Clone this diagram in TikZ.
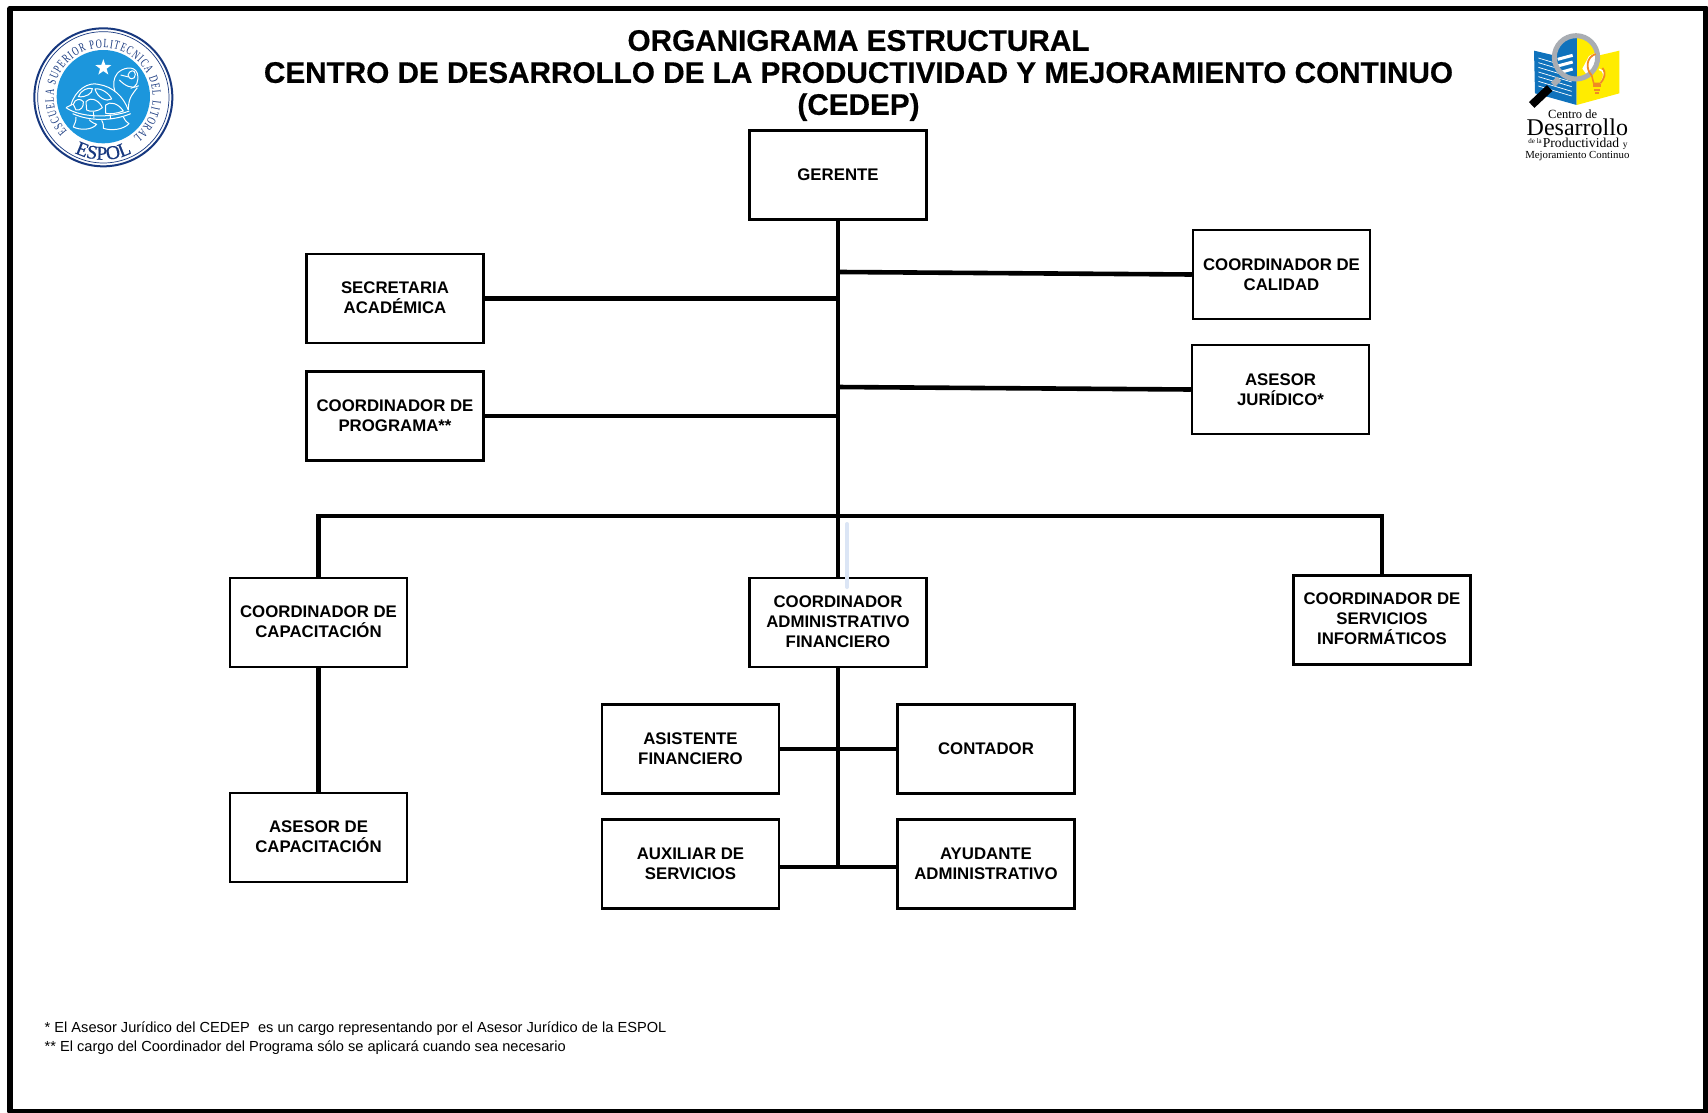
\documentclass[tikz,border=0pt]{standalone}
\usepackage{fontspec}
\setmainfont{Liberation Sans}
\newfontfamily\titlefont[FakeBold=0.5]{Liberation Sans Bold}
\newfontfamily\serifmark{Liberation Serif}
\newfontfamily\sealring[FakeStretch=0.68]{Liberation Serif}
\newfontfamily\sealname[FakeBold=0.6]{Liberation Serif}
\usetikzlibrary{shapes.geometric,decorations.text,calc}
\definecolor{sealblue}{HTML}{1C96DC}
\definecolor{sealnavy}{HTML}{17387F}
\definecolor{bookblue}{HTML}{0F72BC}
\definecolor{bookyellow}{HTML}{FFEC00}
\definecolor{lensgray}{HTML}{A9ADB3}
\definecolor{bulborange}{HTML}{F08A24}
\definecolor{stripeblue}{HTML}{DBE5F5}
\newcommand{\lifttext}{\rule[-2pt]{0pt}{0pt}}
\tikzset{
  orgbox/.style={draw=black,fill=white,line width=2.5pt,minimum width=177pt,minimum height=89pt,inner sep=0pt,align=center,
    font=\fontsize{16.8}{20}\selectfont\bfseries},
  link/.style={draw=black,line width=4.6pt},
  turtleline/.style={draw=white,line width=1pt,line join=round},
}
\begin{document}
\begin{tikzpicture}[x=1pt,y=-1pt]
\useasboundingbox (0,0) rectangle (1708,1113);
\fill[white] (0,0) rectangle (1708,1113);
\draw[line width=5.5pt,line join=round] (10,8.5) rectangle (1706,1111.5);

% Title and notes
\node[align=center,font=\fontsize{29.7}{32}\selectfont\titlefont] (title) at (858.5,75.5)
  {ORGANIGRAMA ESTRUCTURAL\\CENTRO DE DESARROLLO DE LA PRODUCTIVIDAD Y MEJORAMIENTO CONTINUO\\(CEDEP)};
\node[anchor=west,align=left,inner sep=0pt,font=\fontsize{14.6}{18.5}\selectfont] (notes) at (44.5,1038)
  {* El Asesor Jurídico del CEDEP\ \ es un cargo representando por el Asesor Jurídico de la ESPOL\\** El cargo del Coordinador del Programa sólo se aplicará cuando sea necesario};

% Free junctions
\coordinate (jCal) at (840,272);
\coordinate (jJur) at (836.5,387);
\coordinate (jBus) at (838,516);
\coordinate (jAux) at (838,867);

% Boxes
\node[orgbox] (ger) at (838,175) {GERENTE};
\node[orgbox] (sec) at (395,298.5) {SECRETARIA\\ACADÉMICA\lifttext};
\node[orgbox] (prog) at (395,416) {COORDINADOR DE\\PROGRAMA**};
\node[orgbox] (cal) at (1281.5,274.5) {COORDINADOR DE\\CALIDAD};
\node[orgbox] (jur) at (1280.5,389.5) {ASESOR\\JURÍDICO*};
\node[orgbox] (cap) at (318.5,622.5) {COORDINADOR DE\\CAPACITACIÓN\lifttext};
\node[orgbox] (caf) at (838,622.5) {COORDINADOR\\ADMINISTRATIVO\\FINANCIERO\lifttext};
\node[orgbox] (serv) at (1382,620) {COORDINADOR DE\\SERVICIOS\\INFORMÁTICOS\lifttext};
\node[orgbox] (acap) at (318.5,837.5) {ASESOR DE\\CAPACITACIÓN\lifttext};
\node[orgbox] (asis) at (690.5,749) {ASISTENTE\\FINANCIERO};
\node[orgbox] (cont) at (986,749) {CONTADOR};
\node[orgbox] (aux) at (690.5,864) {AUXILIAR DE\\SERVICIOS};
\node[orgbox] (ayu) at (986,864) {AYUDANTE\\ADMINISTRATIVO};

% Connectors
\draw[link] (ger.south) -- (caf.north);
\draw[link] (caf.south) -- (jAux);
\draw[link] (sec.east) -- (sec.east -| ger.south);
\draw[link] (prog.east) -- (prog.east -| ger.south);
\draw[link] (jCal) -- (cal.west);
\draw[link] (jJur) -- (jur.west);
\draw[link] (cap.north) |- (jBus) -| (serv.north);
\draw[link] (cap.south) -- (acap.north);
\draw[link] (asis.east) -- (cont.west);
\draw[link] (aux.east |- jAux) -- (ayu.west |- jAux);
\draw[stripeblue,line width=4pt,line cap=round] (847,524) -- (847,587);

% ESPOL seal
\begin{scope}[x=0.33333pt,y=-0.33333pt]
  \draw[sealnavy,line width=2pt] (310,292) circle[radius=207];
  \draw[sealnavy,line width=0.7pt] (310,292) circle[radius=197];
  \fill[sealblue] (310,290) circle[radius=140];
\end{scope}
\begin{scope}[shift={(60,55)},x=0.33333pt,y=-0.33333pt]
  \node[star,star points=5,star point ratio=2.5,fill=white,inner sep=0pt,minimum size=17pt] (sealstar) at (130,38) {};
  % shell
  \draw[turtleline] (33,150) .. controls (45,105) and (85,80) .. (115,88) .. controls (160,95) and (190,125) .. (205,165);
  \draw[turtleline] (18,158) .. controls (60,188) and (150,190) .. (208,168);
  \draw[turtleline] (18,158) -- (38,148);
  \draw[turtleline] (38,176) .. controls (90,200) and (160,198) .. (212,176);
  \draw[turtleline] (55,125) .. controls (62,105) and (85,96) .. (97,101) .. controls (98,115) and (78,128) .. cycle;
  \draw[turtleline] (105,102) .. controls (125,98) and (150,118) .. (155,132) .. controls (140,142) and (112,128) .. cycle;
  \draw[turtleline] (40,148) .. controls (45,130) and (62,130) .. (70,140) .. controls (72,155) and (62,168) .. (48,165) -- cycle;
  \draw[turtleline] (78,140) .. controls (95,122) and (120,140) .. (127,158) .. controls (115,170) and (90,172) .. (80,165) -- cycle;
  \draw[turtleline] (137,150) .. controls (150,138) and (175,145) .. (190,168) .. controls (170,176) and (148,178) .. (137,175) -- cycle;
  \draw[turtleline] (100,170) -- (102,190) (150,178) -- (152,192);
  % neck and head
  \draw[turtleline] (165,110) .. controls (158,90) and (160,70) .. (172,55) .. controls (185,40) and (222,28) .. (232,55) .. controls (238,80) and (228,98) .. (212,100);
  \draw[turtleline] (178,75) .. controls (195,92) and (215,104) .. (236,92);
  \draw[turtleline] (232,98) .. controls (220,115) and (205,125) .. (205,165);
  \draw[turtleline] (204,60) .. controls (208,45) and (225,42) .. (226,58) .. controls (226,75) and (206,76) .. cycle;
  \draw[turtleline] (182,60) -- (206,66);
  % legs
  \draw[turtleline] (48,186) .. controls (50,198) and (42,208) .. (40,216) .. controls (60,226) and (95,226) .. (110,208) .. controls (98,204) and (90,198) .. (88,194);
  \draw[turtleline] (125,196) .. controls (132,208) and (130,214) .. (130,220) .. controls (155,228) and (190,224) .. (207,206) .. controls (198,200) and (192,192) .. (190,186);
\end{scope}
\begin{scope}[shift={(103.3,97.3)},y=1pt]
  \path[decorate,decoration={text along path,text align={fit to path},
      text={|\fontsize{12.5}{13}\sealring\color{sealnavy}|ESCUELA SUPERIOR POLITECNICA DEL LITORAL}}]
    (223:49.5) arc[start angle=223,end angle=-53,radius=49.5];
  \path[decorate,decoration={text along path,text align={center},
      text={|\fontsize{19.5}{20}\sealname\color{sealnavy}|ESPOL}}]
    (238:62.5) arc[start angle=238,end angle=302,radius=62.5];
\end{scope}

% CEDEP logo: book and magnifier
\begin{scope}[shift={(1525,30)},x=0.33333pt,y=-0.33333pt]
  \fill[bookblue] (27,62) -- (155,92) -- (155,225) -- (30,190) -- cycle;
  \fill[bookyellow] (283,62) -- (155,92) -- (155,225) -- (283,190) -- cycle;
  \foreach \yy in {84,98,112,126,140,154,168}{
    \draw[white,line width=0.7pt] (40,\yy) -- (140,\yy+30);
  }
  \fill[white] (153,82) circle[radius=66];
  \begin{scope}
    \clip (153,82) circle[radius=66];
    \fill[bookblue] (85,14) rectangle (155,151);
    \fill[bookyellow] (155,14) rectangle (222,151);
    \draw[white,line width=3pt] (98,88) -- (143,76);
    \draw[white,line width=3pt] (98,108) -- (143,96);
    \draw[white,line width=3pt] (104,128) -- (143,117);
    \fill[white] (172,116) -- (192,78) -- (212,68) -- (212,136) -- (190,141) -- cycle;
  \end{scope}
  \draw[lensgray,line width=5pt] (153,82) circle[radius=65];
  \draw[bulborange,line width=1.8pt] (200,136) .. controls (182,118) and (182,82) .. (212,72);
  \draw[white,line width=1.5pt] (222,118) .. controls (238,120) and (242,138) .. (226,160);
  \draw[bulborange,line width=1.8pt] (232,114) .. controls (246,130) and (236,148) .. (226,160);
  \draw[bulborange,line width=1.5pt] (200,136) -- (206,160) -- (226,160);
  \fill[bulborange] (204,162) rectangle (228,170);
  \fill[bulborange] (206,176) rectangle (226,182);
  \fill[bulborange] (210,187) rectangle (222,193);
  \draw[lensgray,line width=6pt] (102,146) -- (84,164);
  \draw[black,line width=8pt] (74,174) -- (20,225);
\end{scope}
% CEDEP logo: wording
\begin{scope}[shift={(1490,0)},x=0.33333pt,y=-0.33333pt]
  \node[font=\fontsize{12.5}{13}\serifmark] (cdl1) at (248,344) {Centro de};
  \node[font=\fontsize{24}{24}\serifmark] (cdl2) at (262,381) {Desarrollo};
  \node[font=\fontsize{13.6}{15}\serifmark,anchor=base west,inner sep=0pt] (cdl3) at (158,442) {Productividad};
  \node[font=\fontsize{7}{8}\serifmark,anchor=base east,inner sep=0pt] (cdl3a) at (156,430) {de la};
  \node[font=\fontsize{9.5}{10}\serifmark,anchor=base west,inner sep=0pt] (cdl3b) at (398,442) {y};
  \node[font=\fontsize{10.8}{11}\serifmark] (cdl4) at (262,467) {Mejoramiento Continuo};
\end{scope}
\end{tikzpicture}
\end{document}
